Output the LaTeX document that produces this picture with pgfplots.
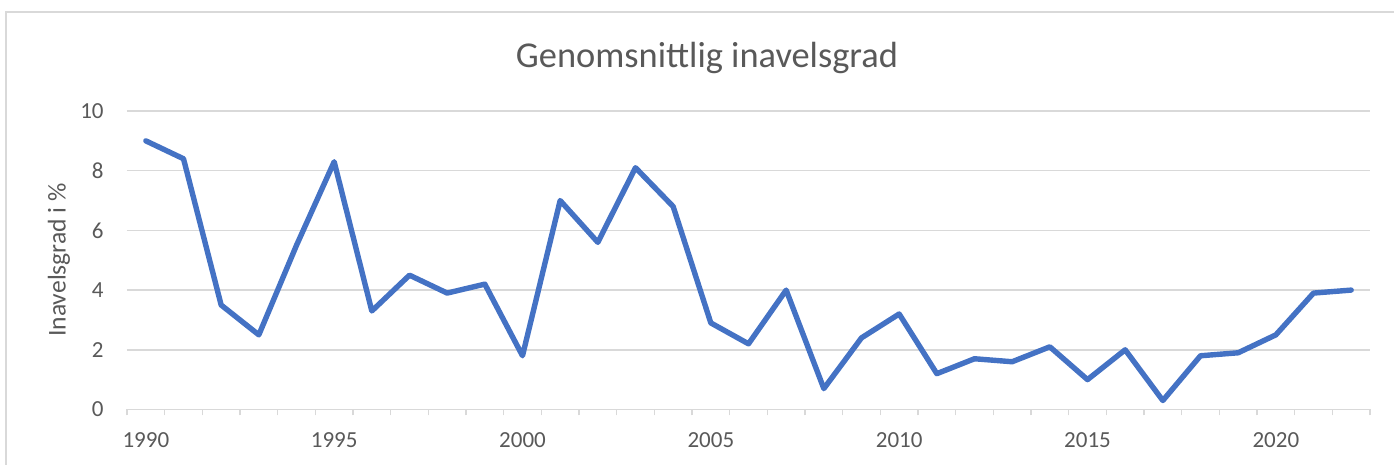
\documentclass[border=0pt]{standalone}
\usepackage{pgfplots}
\pgfplotsset{compat=1.18}
\usepackage{fontspec}
\setmainfont{Carlito}
\definecolor{txtc}{HTML}{595959}
\definecolor{gridc}{HTML}{D9D9D9}
\definecolor{xlblue}{HTML}{4472C4}
\begin{document}
\begin{tikzpicture}
\useasboundingbox (-63.5pt,-27.75pt) rectangle (633.5pt,204.75pt);
\draw[draw=gridc, line width=0.8pt] (-60.5pt,-60pt) -- (-60.5pt,198.75pt) -- (660pt,198.75pt);
\begin{axis}[
  at={(0,0)}, anchor=south west,
  scale only axis, width=621.5pt, height=149.25pt,
  xmin=1989.5, xmax=2022.5, ymin=0, ymax=10,
  axis lines*=left,
  y axis line style={draw=none},
  x axis line style={draw=gridc, line width=0.8pt},
  xtick={1990,1995,...,2020},
  minor xtick={1989.5,1990.5,...,2022.5},
  ytick={0,2,...,10},
  major tick length=0pt,
  minor tick length=3pt,
  tick align=outside,
  major tick style={draw=none},
  minor tick style={draw=gridc, line width=0.8pt},
  ymajorgrids,
  xmajorgrids=false,
  major grid style={draw=gridc, line width=0.8pt},
  /pgf/number format/assume math mode=true,
  /pgf/number format/1000 sep={},
  ticklabel style={font=\fontsize{11.5}{13}\selectfont, text=txtc, inner sep=0pt},
  xticklabel style={anchor=base, yshift=-19.25pt},
  yticklabel style={anchor=east, xshift=-11.5pt},
  clip=false,
]
\addplot[draw=xlblue, line width=2.7pt, line join=round, line cap=round] coordinates {
(1990,9.0) (1991,8.4) (1992,3.5) (1993,2.5) (1994,5.5) (1995,8.3)
(1996,3.3) (1997,4.5) (1998,3.9) (1999,4.2) (2000,1.8) (2001,7.0)
(2002,5.6) (2003,8.1) (2004,6.8) (2005,2.9) (2006,2.2) (2007,4.0)
(2008,0.7) (2009,2.4) (2010,3.2) (2011,1.2) (2012,1.7) (2013,1.6)
(2014,2.1) (2015,1.0) (2016,2.0) (2017,0.3) (2018,1.8) (2019,1.9)
(2020,2.5) (2021,3.9) (2022,4.0)
};
\end{axis}
\node[anchor=base, text=txtc, font=\fontsize{18.2}{21}\selectfont, inner sep=0pt] at (290pt,170.75pt) {Genomsnittlig inavelsgrad};
\node[rotate=90, text=txtc, font=\fontsize{12.8}{15}\selectfont, inner sep=0pt] at (-34pt,74.75pt) {Inavelsgrad i \%};
\end{tikzpicture}
\end{document}
